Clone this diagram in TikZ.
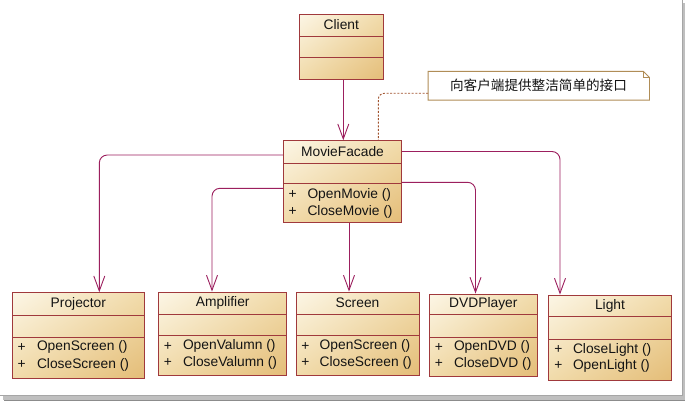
\documentclass[tikz,border=0pt]{standalone}
\usepackage{fontspec}
\setmainfont{Liberation Sans}
\newfontfamily\cjk{Noto Sans CJK SC}
\usetikzlibrary{arrows.meta,shadings}
\definecolor{boxborder}{HTML}{A0393C}
\definecolor{fillA}{HTML}{FCF6E6}
\definecolor{fillB}{HTML}{F1DBAA}
\definecolor{fillC}{HTML}{E4BD78}
\definecolor{conn}{HTML}{9C1F5E}
\definecolor{notebd}{HTML}{B08D57}
\definecolor{notedot}{HTML}{A0522D}
\definecolor{txt}{HTML}{141414}
\tikzset{
  classbox/.style={draw=boxborder, line width=0.9pt, rectangle, inner sep=0pt,
    upper left=fillA, upper right=fillB, lower left=fillB, lower right=fillC},
  sepline/.style={draw=boxborder, line width=0.9pt},
  ctitle/.style={font=\fontsize{13.8}{14}\selectfont, text=txt, inner sep=0pt},
  plus/.style={font=\fontsize{13.8}{14}\selectfont, text=txt, inner sep=0pt},
  meth/.style={font=\fontsize{13.8}{14}\selectfont, text=txt, inner sep=0pt, anchor=west},
  assoc/.style={draw=conn, line width=0.9pt, rounded corners=8pt,
    -{Straight Barb[length=15pt,width=11pt,line width=0.9pt]}},
  notelink/.style={draw=notedot, line width=0.9pt, dash pattern=on 2pt off 1.6pt, rounded corners=6pt}
}
\begin{document}
\begin{tikzpicture}[x=1pt,y=-1pt]
\useasboundingbox (0,0) rectangle (685,401);
% frame with shadow
\fill[black!45] (4,4) rectangle (685,401);
\fill[black!25] (3,3) rectangle (684.5,399.5);
\fill[white] (0,0) rectangle (682.5,395);
\draw[black!35, line width=0.8pt] (682.5,0) -- (682.5,395) -- (0,395);

% Client
\node[classbox, minimum width=84pt, minimum height=65.3pt] (client) at (341.3,46.7) {};
\draw[sepline] (299.3,36) -- (383.3,36);
\draw[sepline] (299.3,57.3) -- (383.3,57.3);
\node[ctitle] (clientT) at (341.3,25) {Client};

% MovieFacade
\node[classbox, minimum width=118.4pt, minimum height=82pt] (facade) at (342.5,181.7) {};
\draw[sepline] (283.3,163.3) -- (401.7,163.3);
\draw[sepline] (283.3,183.3) -- (401.7,183.3);
\node[ctitle] (facadeT) at (342.5,152) {MovieFacade};
\node[plus] (fp1) at (292.7,194.5) {+};
\node[meth] (fm1) at (307.3,194.5) {OpenMovie ()};
\node[plus] (fp2) at (292.7,211.5) {+};
\node[meth] (fm2) at (307.3,211.5) {CloseMovie ()};

% Note
\node[minimum width=221pt, minimum height=28.3pt, inner sep=0pt] (note) at (538.8,85.8) {};
\draw[notebd, line width=0.9pt, fill=white]
  (note.north west) -- ([xshift=-6pt]note.north east) -- ([yshift=-6pt]note.north east)
  -- (note.south east) -- (note.south west) -- cycle;
\draw[notebd, line width=0.8pt]
  ([xshift=-6pt]note.north east) -- ([xshift=-6pt,yshift=-6pt]note.north east) -- ([yshift=-6pt]note.north east);
\node[inner sep=0pt, text=txt, font=\cjk\fontsize{13.6}{14}\selectfont] (noteT) at (538.5,85.8) {向客户端提供整洁简单的接口};

% Projector
\node[classbox, minimum width=131.3pt, minimum height=85.6pt] (proj) at (78.35,335.5) {};
\draw[sepline] (12.7,315) -- (144,315);
\draw[sepline] (12.7,337.3) -- (144,337.3);
\node[ctitle] (projT) at (78.35,303.5) {Projector};
\node[plus] (pp1) at (21.7,347.3) {+};
\node[meth] (pm1) at (36.8,347.3) {OpenScreen ()};
\node[plus] (pp2) at (21.7,364.5) {+};
\node[meth] (pm2) at (36.8,364.5) {CloseScreen ()};

% Amplifier
\node[classbox, minimum width=128pt, minimum height=83.7pt] (amp) at (222.7,333.85) {};
\draw[sepline] (158.7,314) -- (286.7,314);
\draw[sepline] (158.7,335.7) -- (286.7,335.7);
\node[ctitle] (ampT) at (222.7,302.8) {Amplifier};
\node[plus] (ap1) at (168,346.3) {+};
\node[meth] (am1) at (182.8,346.3) {OpenValumn ()};
\node[plus] (ap2) at (168,362.5) {+};
\node[meth] (am2) at (182.8,362.5) {CloseValumn ()};

% Screen
\node[classbox, minimum width=123pt, minimum height=83pt] (screen) at (357.5,333.5) {};
\draw[sepline] (296,314) -- (419,314);
\draw[sepline] (296,335.7) -- (419,335.7);
\node[ctitle] (screenT) at (357.5,302.8) {Screen};
\node[plus] (sp1) at (305.3,346.3) {+};
\node[meth] (sm1) at (319.5,346.3) {OpenScreen ()};
\node[plus] (sp2) at (305.3,362.5) {+};
\node[meth] (sm2) at (319.5,362.5) {CloseScreen ()};

% DVDPlayer
\node[classbox, minimum width=108pt, minimum height=82pt] (dvd) at (483.3,335) {};
\draw[sepline] (429.3,314.3) -- (537.3,314.3);
\draw[sepline] (429.3,337.3) -- (537.3,337.3);
\node[ctitle] (dvdT) at (483.3,303.5) {DVDPlayer};
\node[plus] (dp1) at (439,347.3) {+};
\node[meth] (dm1) at (453.8,347.3) {OpenDVD ()};
\node[plus] (dp2) at (439,364) {+};
\node[meth] (dm2) at (453.8,364) {CloseDVD ()};

% Light
\node[classbox, minimum width=123.4pt, minimum height=85pt] (light) at (610,337.5) {};
\draw[sepline] (548.3,316.7) -- (671.7,316.7);
\draw[sepline] (548.3,339) -- (671.7,339);
\node[ctitle] (lightT) at (610,305.5) {Light};
\node[plus] (lp1) at (558.3,349.5) {+};
\node[meth] (lm1) at (572.8,349.5) {CloseLight ()};
\node[plus] (lp2) at (558.3,365.8) {+};
\node[meth] (lm2) at (572.8,365.8) {OpenLight ()};

% turn points
\coordinate (cA) at (343.3,0);
\coordinate (tN) at (378.3,93.3);
\coordinate (tP) at (99.3,155);
\coordinate (tA) at (212,188.3);
\coordinate (tS) at (349,0);
\coordinate (tD) at (475.5,182.3);
\coordinate (tL) at (560,151.5);

% connectors
\draw[assoc] (cA |- client.south) -- (cA |- facade.north);
\draw[notelink] (note.west |- tN) -- (tN) -- (tN |- facade.north);
\draw[assoc] (facade.west |- tP) -- (tP) -- (tP |- proj.north);
\draw[assoc] (facade.west |- tA) -- (tA) -- (tA |- amp.north);
\draw[assoc] (tS |- facade.south) -- (tS |- screen.north);
\draw[assoc] (facade.east |- tD) -- (tD) -- (tD |- dvd.north);
\draw[assoc] (facade.east |- tL) -- (tL) -- (tL |- light.north);
\end{tikzpicture}
\end{document}
